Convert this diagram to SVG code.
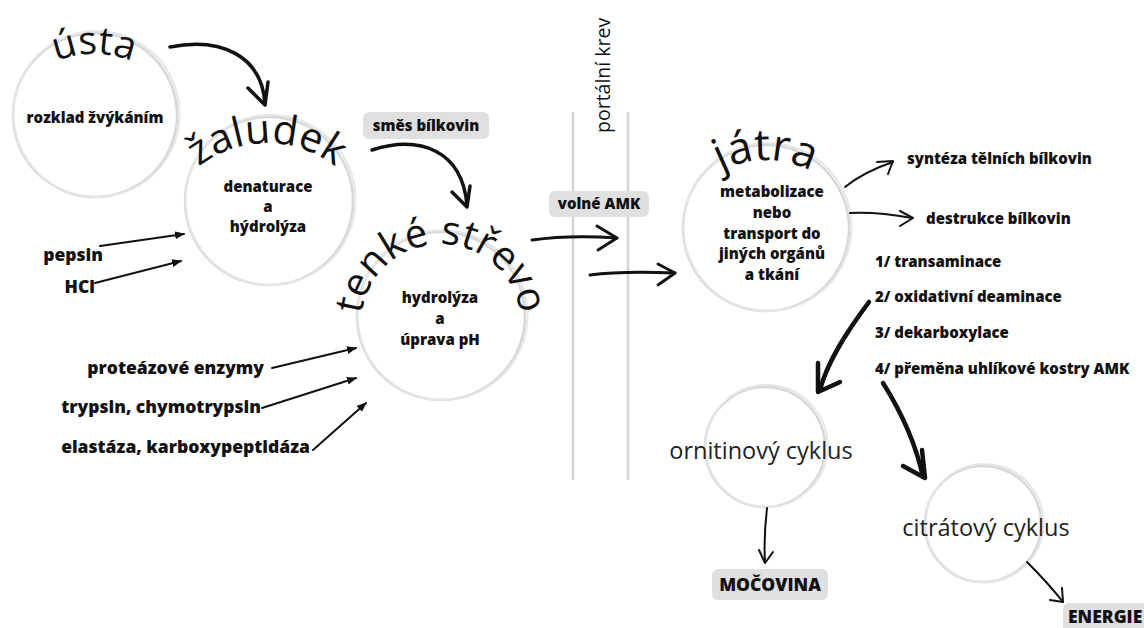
<svg xmlns="http://www.w3.org/2000/svg" xmlns:xlink="http://www.w3.org/1999/xlink" width="1144" height="628" viewBox="0 0 1144 628">
<style>
.ring{fill:none;stroke:#d8d8d8;stroke-width:2.5}
.ring2{fill:none;stroke:#e6e6e6;stroke-width:2}
.title{font-family:"Open Sans","Noto Sans",sans-serif;font-weight:400;fill:#111}
.lbl{font-family:"Open Sans","Noto Sans",sans-serif;font-weight:800;fill:#111;font-size:15px}
.side{font-family:"Open Sans","Noto Sans",sans-serif;font-weight:800;fill:#111;font-size:17.5px}
.cyc{font-family:"Open Sans","Noto Sans",sans-serif;font-weight:400;fill:#222;font-size:23.5px}
.box{fill:#e0e0e0}
.thick{fill:none;stroke:#111;stroke-linecap:round;stroke-linejoin:round}
.thin{fill:none;stroke:#111;stroke-width:2;stroke-linecap:round}
.portal{stroke:#d4d4d4;stroke-width:2.5}
</style>
<defs>
<marker id="tri" viewBox="0 0 10 8" refX="9" refY="4" markerWidth="10" markerHeight="8" markerUnits="userSpaceOnUse" orient="auto">
<path d="M0,0 L10,4 L0,8 Z" fill="#111"/>
</marker>
<path id="arcUsta" d="M-4.5,136.6 A100 100 0 0 1 192.5,136.6"/>
<path id="arcZal" d="M158.7,233.9 A110 110 0 0 1 375.3,233.9"/>
<path id="arcTenke" d="M362.2,337.9 A80 80 0 1 1 519.8,337.9"/>
<path id="arcJatra" d="M669.5,241 A98 98 0 0 1 862.5,241"/>
</defs>
<rect width="1144" height="628" fill="#fff"/>

<g id="portal">
<line class="portal" x1="573" y1="112" x2="573" y2="480"/>
<line class="portal" x1="628" y1="112" x2="628" y2="480"/>
<text class="title" font-size="19.5" transform="translate(610,133) rotate(-90)">portální krev</text>
</g>

<g id="usta">
<circle class="ring" cx="95" cy="115" r="82"/>
<circle class="ring2" cx="96.5" cy="114" r="83"/>
<text class="title" font-size="39"><textPath xlink:href="#arcUsta" href="#arcUsta" startOffset="50%" text-anchor="middle">ústa</textPath></text>
<text class="lbl" x="95" y="123" text-anchor="middle">rozklad žvýkáním</text>
</g>

<g id="zaludek">
<circle class="ring" cx="269" cy="201" r="84"/>
<circle class="ring2" cx="270.5" cy="200" r="85"/>
<text class="title" font-size="41"><textPath xlink:href="#arcZal" href="#arcZal" startOffset="50%" text-anchor="middle">žaludek</textPath></text>
<text class="lbl" text-anchor="middle"><tspan x="268" y="192">denaturace</tspan><tspan x="268" y="212">a</tspan><tspan x="268" y="232">hýdrolýza</tspan></text>
</g>

<g id="tenke">
<circle class="ring" cx="441" cy="316" r="84"/>
<circle class="ring2" cx="442.5" cy="315" r="85"/>
<text class="title" font-size="40"><textPath xlink:href="#arcTenke" href="#arcTenke" startOffset="50%" text-anchor="middle">tenké střevo</textPath></text>
<text class="lbl" text-anchor="middle"><tspan x="440" y="303">hydrolýza</tspan><tspan x="440" y="324">a</tspan><tspan x="440" y="345">úprava pH</tspan></text>
</g>

<g id="smes">
<rect class="box" x="363" y="112" width="126" height="27" rx="6"/>
<text class="lbl" x="426" y="131" text-anchor="middle">směs bílkovin</text>
</g>

<g id="volne">
<rect class="box" x="549" y="191" width="100" height="26" rx="6"/>
<text class="lbl" x="599" y="209" text-anchor="middle">volné AMK</text>
</g>

<g id="jatra">
<circle class="ring" cx="766" cy="228" r="83"/>
<circle class="ring2" cx="767.5" cy="227" r="84"/>
<text class="title" font-size="44"><textPath xlink:href="#arcJatra" href="#arcJatra" startOffset="50%" text-anchor="middle">játra</textPath></text>
<text class="lbl" text-anchor="middle"><tspan x="772" y="197">metabolizace</tspan><tspan x="772" y="218">nebo</tspan><tspan x="772" y="239">transport do</tspan><tspan x="772" y="259">jiných orgánů</tspan><tspan x="772" y="280">a tkání</tspan></text>
</g>

<g id="synteza"><text class="lbl" x="907" y="164">syntéza tělních bílkovin</text></g>
<g id="destrukce"><text class="lbl" x="926" y="224">destrukce bílkovin</text></g>
<g id="kroky">
<text class="lbl" x="875" y="267">1/ transaminace</text>
<text class="lbl" x="875" y="302">2/ oxidativní deaminace</text>
<text class="lbl" x="875" y="338">3/ dekarboxylace</text>
<text class="lbl" x="875" y="374">4/ přeměna uhlíkové kostry AMK</text>
</g>

<g id="ornitin">
<circle class="ring" cx="765" cy="447" r="60"/>
<circle class="ring2" cx="766.5" cy="446" r="61"/>
<text class="cyc" x="761" y="459" text-anchor="middle">ornitinový cyklus</text>
</g>

<g id="citrat">
<circle class="ring" cx="983" cy="524" r="58"/>
<circle class="ring2" cx="984.5" cy="523" r="59"/>
<text class="cyc" x="986" y="536" text-anchor="middle">citrátový cyklus</text>
</g>

<g id="mocovina">
<rect class="box" x="712" y="569" width="116" height="31" rx="6"/>
<text class="side" x="770" y="591" text-anchor="middle">MOČOVINA</text>
</g>

<g id="energie">
<rect class="box" x="1063" y="603" width="95" height="32" rx="6"/>
<text class="side" x="1068" y="623">ENERGIE</text>
</g>

<g id="enzymy">
<text class="side" x="103" y="261" text-anchor="end">pepsin</text>
<text class="side" x="95" y="293" text-anchor="end">HCl</text>
<text class="side" x="264" y="374" text-anchor="end">proteázové enzymy</text>
<text class="side" x="261" y="413" text-anchor="end">trypsin, chymotrypsin</text>
<text class="side" x="310" y="453" text-anchor="end">elastáza, karboxypeptidáza</text>
</g>

<g id="connectors">
<path class="thick" stroke-width="3.5" d="M170,47 C220,37 262,55 265,104"/>
<path class="thick" stroke-width="3.5" d="M248,88 L265,105 L268,82"/>
<path class="thick" stroke-width="3.5" d="M372,150 C420,135 462,150 467,205"/>
<path class="thick" stroke-width="3.5" d="M452,192 L467,207 L470,186"/>
<path class="thick" stroke-width="3" d="M532,240 C560,236 590,236 617,238"/>
<path class="thick" stroke-width="3" d="M597,226 L617,238 L598,250"/>
<path class="thick" stroke-width="3" d="M590,275 C620,271 650,272 675,273"/>
<path class="thick" stroke-width="3" d="M658,264 L675,273 L658,285"/>
<path class="thick" stroke-width="2" d="M845,187 C860,175 875,168 893,162"/>
<path class="thick" stroke-width="2" d="M877,162 L893,161 L888,174"/>
<path class="thick" stroke-width="2" d="M850,213 C870,212 890,214 912,218"/>
<path class="thick" stroke-width="2" d="M900,211 L913,218 L900,226"/>
<path class="thick" stroke-width="4.5" d="M869,302 C848,330 828,360 820,390"/>
<path class="thick" stroke-width="4.5" d="M818,363 L818,392 L840,382"/>
<path class="thick" stroke-width="4.5" d="M883,383 C900,410 915,440 923,477"/>
<path class="thick" stroke-width="4.5" d="M903,466 L925,478 L922,450"/>
<path class="thick" stroke-width="2" d="M767,508 C765,525 764,545 765,562"/>
<path class="thick" stroke-width="2" d="M759,550 L765,563 L773,552"/>
<path class="thick" stroke-width="2" d="M1027,562 C1040,575 1052,588 1063,602"/>
<path class="thick" stroke-width="2" d="M1050,600 L1063,602 L1062,588"/>
<path class="thin" marker-end="url(#tri)" d="M100,246 L184,234"/>
<path class="thin" marker-end="url(#tri)" d="M95,283 L181,261"/>
<path class="thin" marker-end="url(#tri)" d="M272,368 L356,348"/>
<path class="thin" marker-end="url(#tri)" d="M262,408 L356,378"/>
<path class="thin" marker-end="url(#tri)" d="M313,450 L366,403"/>
</g>
</svg>
